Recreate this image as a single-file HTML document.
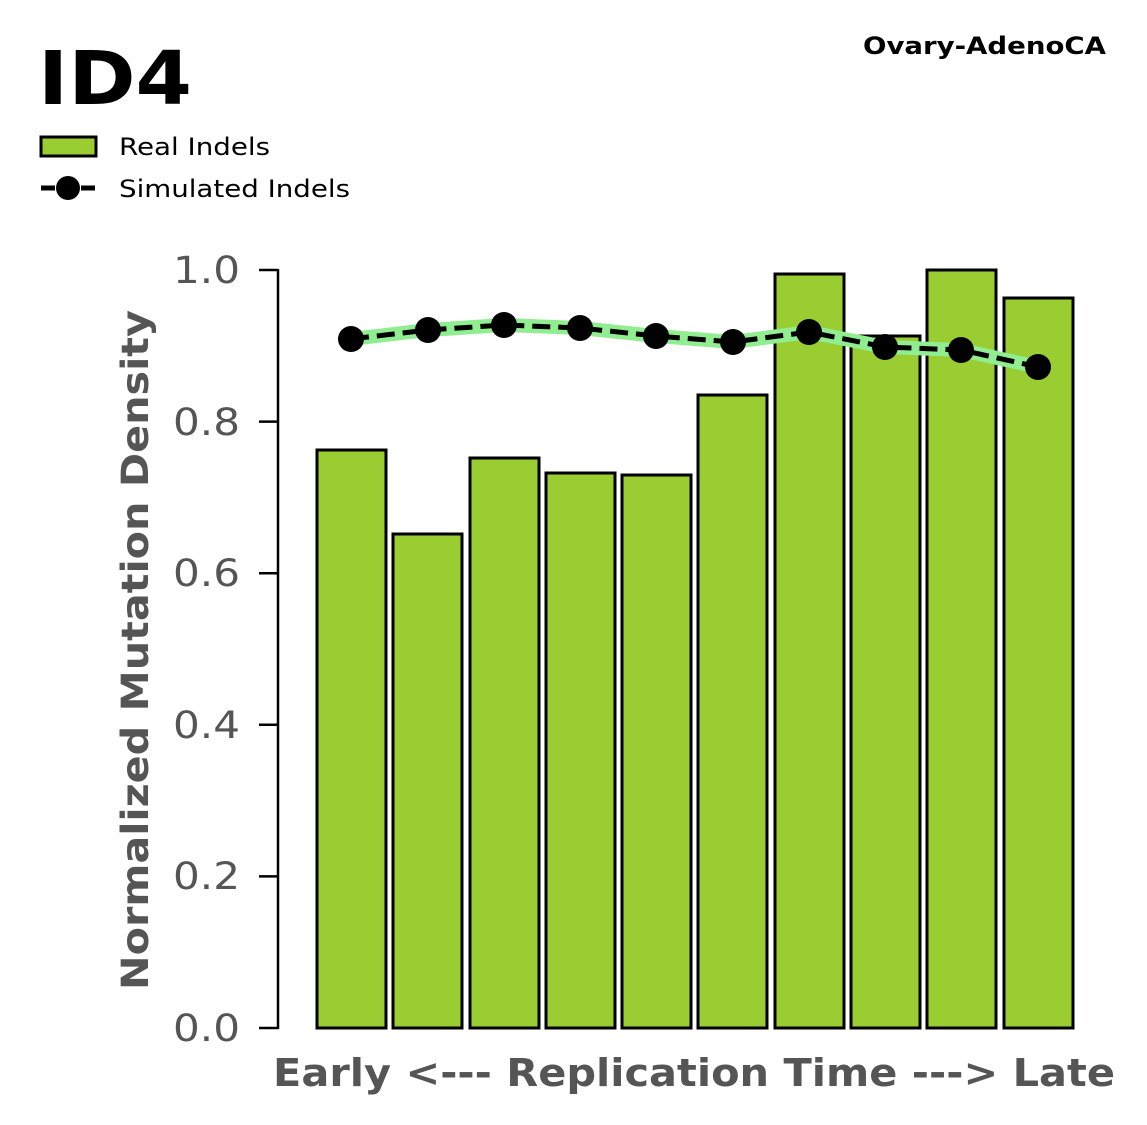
<!DOCTYPE html>
<html><head><meta charset="utf-8"><style>
body{margin:0;background:#fff;width:1147px;height:1125px;overflow:hidden}
svg{display:block}
</style></head><body>
<svg width="1147" height="1125" xmlns="http://www.w3.org/2000/svg" font-family="'DejaVu Sans','Liberation Sans',sans-serif">
<text x="38" y="104" font-size="74" font-weight="bold" fill="#000" textLength="154" lengthAdjust="spacingAndGlyphs">ID4</text>
<text x="863" y="54" font-size="24" font-weight="bold" fill="#000" textLength="243" lengthAdjust="spacingAndGlyphs">Ovary-AdenoCA</text>
<rect x="41" y="137" width="55" height="19" fill="#9acd32" stroke="#000" stroke-width="3"/>
<text x="119" y="155" font-size="24" fill="#000" textLength="151" lengthAdjust="spacingAndGlyphs">Real Indels</text>
<line x1="41" y1="188" x2="96" y2="188" stroke="#000" stroke-width="5" stroke-dasharray="14,6"/>
<circle cx="68" cy="188" r="12" fill="#000"/>
<text x="119" y="197" font-size="24" fill="#000" textLength="231" lengthAdjust="spacingAndGlyphs">Simulated Indels</text>
<line x1="278" y1="269" x2="278" y2="1029" stroke="#000" stroke-width="2.5"/>
<g stroke="#000" stroke-width="2.5">
<line x1="259" y1="1028" x2="278" y2="1028"/><line x1="259" y1="876.4" x2="278" y2="876.4"/>
<line x1="259" y1="724.8" x2="278" y2="724.8"/><line x1="259" y1="573.2" x2="278" y2="573.2"/>
<line x1="259" y1="421.6" x2="278" y2="421.6"/><line x1="259" y1="270" x2="278" y2="270"/>
</g>
<g font-size="37" fill="#555">
<text x="173" y="1041" textLength="67" lengthAdjust="spacingAndGlyphs">0.0</text>
<text x="173" y="889" textLength="67" lengthAdjust="spacingAndGlyphs">0.2</text>
<text x="173" y="738" textLength="67" lengthAdjust="spacingAndGlyphs">0.4</text>
<text x="173" y="586" textLength="67" lengthAdjust="spacingAndGlyphs">0.6</text>
<text x="173" y="435" textLength="67" lengthAdjust="spacingAndGlyphs">0.8</text>
<text x="173" y="283" textLength="67" lengthAdjust="spacingAndGlyphs">1.0</text>
</g>
<text transform="translate(148,990) rotate(-90)" font-size="37" font-weight="bold" fill="#555" textLength="680" lengthAdjust="spacingAndGlyphs">Normalized Mutation Density</text>
<text x="273" y="1086" font-size="38" font-weight="bold" fill="#555" textLength="842" lengthAdjust="spacingAndGlyphs">Early &lt;--- Replication Time ---&gt; Late</text>
<g fill="#9acd32" stroke="#000" stroke-width="3">
<rect x="317" y="450" width="69" height="578"/>
<rect x="393" y="534" width="69" height="494"/>
<rect x="470" y="458" width="69" height="570"/>
<rect x="546" y="473" width="69" height="555"/>
<rect x="622" y="475" width="69" height="553"/>
<rect x="698" y="395" width="69" height="633"/>
<rect x="775" y="274" width="69" height="754"/>
<rect x="851" y="336" width="69" height="692"/>
<rect x="927" y="270" width="69" height="758"/>
<rect x="1004" y="298" width="69" height="730"/>
</g>
<polyline points="351,339 428,330 504,325 580,328 656,336 733,342 809,332 885,347 961,350 1038,367" fill="none" stroke="#90ee90" stroke-width="14" stroke-linejoin="round"/>
<polyline points="351,339 428,330 504,325 580,328 656,336 733,342 809,332 885,347 961,350 1038,367" fill="none" stroke="#000" stroke-width="5" stroke-dasharray="18,8"/>
<g fill="#000">
<circle cx="351" cy="339" r="13"/><circle cx="428" cy="330" r="13"/><circle cx="504" cy="325" r="13"/>
<circle cx="580" cy="328" r="13"/><circle cx="656" cy="336" r="13"/><circle cx="733" cy="342" r="13"/>
<circle cx="809" cy="332" r="13"/><circle cx="885" cy="347" r="13"/><circle cx="961" cy="350" r="13"/>
<circle cx="1038" cy="367" r="13"/>
</g>
</svg>
</body></html>
